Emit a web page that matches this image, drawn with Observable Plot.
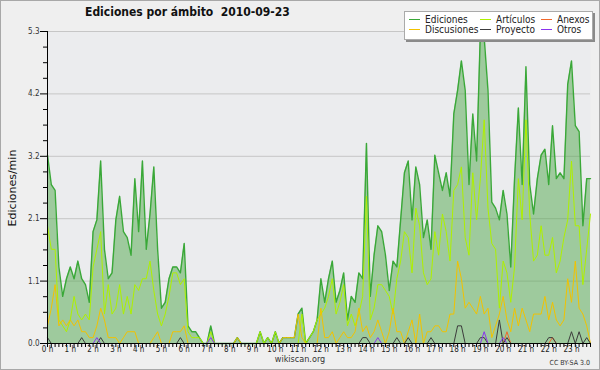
<!DOCTYPE html>
<html><head><meta charset="utf-8">
<script src="https://cdn.jsdelivr.net/npm/d3@7"></script>
<script src="https://cdn.jsdelivr.net/npm/@observablehq/plot@0.6"></script>
<style>
body{margin:0;background:#fff}
#wrap{position:relative;width:600px;height:370px;background:#efefef;overflow:hidden;font-family:"DejaVu Sans Condensed","DejaVu Sans",sans-serif;font-stretch:condensed;color:#222}
#chart{position:absolute;left:0;top:0}
#border{position:absolute;left:0;top:0;right:0;bottom:0;border:1px solid #a8a8a8;pointer-events:none}
#title{position:absolute;left:85px;top:5px;font-size:12px;font-weight:bold;white-space:pre;color:#111}
#ylab{position:absolute;left:12px;top:188px;transform:translate(-50%,-50%) rotate(-90deg);font-family:"DejaVu Sans";font-stretch:normal;font-size:11px;white-space:nowrap;color:#111}
#legend{position:absolute;left:404px;top:11px;width:187px;height:27px;background:#fff;border:1px solid #aaa;box-shadow:2px 2px 0 #8a8a8a}
.li{position:absolute;font-size:10px;line-height:10px;white-space:nowrap;color:#222}
.sw{display:inline-block;width:11px;height:1px;vertical-align:middle;margin-right:5px;position:relative;top:-1px}
#site{position:absolute;left:0;width:600px;top:354px;text-align:center;font-size:9px;color:#333}
#cc{position:absolute;right:10px;top:359px;font-size:7px;color:#333}
</style></head><body>
<div id="wrap">
  <div id="chart"></div>
  <div id="title">Ediciones por ámbito  2010-09-23</div>
  <div id="ylab">Ediciones/min</div>
  <div id="legend"></div>
  <div id="site">wikiscan.org</div>
  <div id="cc">CC BY-SA 3.0</div>
  <div id="border"></div>
</div>
<script>
const hourLabels = ["0 h","1 h","2 h","3 h","4 h","5 h","6 h","7 h","8 h","9 h","10 h","11 h","12 h","13 h","14 h","15 h","16 h","17 h","18 h","19 h","20 h","21 h","22 h","23 h"];
const yTickLabels = ["0.0","1.1","2.1","3.2","4.2","5.3"];
const seriesNames = ["Ediciones","Artículos","Anexos","Discusiones","Proyecto","Otros"];

const ediciones = [
3.2,2.7,2.6,1.3,0.8,1.1,1.3,1.1,1.4,1.1,
1.0,0.7,1.9,2.1,3.1,1.6,1.1,1.2,2.1,2.5,
1.9,1.8,1.5,2.8,1.9,3.1,1.6,2.2,3.0,1.6,
0.6,0.7,1.1,1.3,1.3,1.2,1.7,0.3,0.2,0.2,
0.1,0.0,0.0,0.3,0.0,0.0,0.0,0.0,0.0,0.0,
0.1,0.0,0.0,0.0,0.0,0.0,0.2,0.0,0.1,0.0,
0.2,0.0,0.1,0.1,0.1,0.1,0.5,0.6,0.0,0.1,
0.2,0.4,1.1,0.7,1.1,1.4,0.7,0.9,1.2,0.4,
0.8,0.7,1.2,1.1,3.4,0.8,1.5,2.0,1.9,1.5,
0.9,1.4,1.3,2.1,2.9,3.1,2.1,3.0,2.7,1.8,
2.1,1.6,3.2,2.9,2.6,2.9,2.5,3.9,4.3,4.8,
4.3,2.7,3.9,3.1,5.3,5.2,4.3,2.4,2.3,2.1,
2.6,2.2,1.3,2.8,4.0,2.7,4.7,2.7,2.2,2.8,
3.2,3.3,2.7,3.7,2.8,2.9,2.8,4.4,4.8,3.7,
3.6,2.0,2.8,2.8];

const articulos = [
2.0,1.6,1.6,0.4,0.3,0.2,0.4,0.8,0.5,0.4,
0.5,0.4,1.3,1.6,1.9,0.5,1.0,0.5,0.6,1.0,
0.5,0.8,0.5,1.0,0.9,1.1,1.1,1.4,0.9,0.5,
0.3,0.5,0.8,1.2,1.2,1.0,1.1,0.2,0.1,0.1,
0.1,0.0,0.0,0.2,0.0,0.0,0.0,0.0,0.0,0.0,
0.0,0.0,0.0,0.0,0.0,0.0,0.2,0.0,0.1,0.0,
0.2,0.0,0.0,0.0,0.0,0.0,0.0,0.5,0.0,0.1,
0.2,0.4,0.5,0.6,0.8,1.1,0.5,0.7,1.0,0.3,
0.5,0.3,0.5,0.8,2.5,0.4,0.6,1.0,1.0,0.9,
0.8,0.5,1.1,1.4,1.9,1.8,1.2,2.3,2.0,1.2,
1.0,1.1,1.9,1.5,2.2,1.9,1.4,2.6,2.7,3.0,
1.8,1.5,2.9,2.1,2.8,3.8,2.3,1.7,1.6,0.6,
1.4,1.2,0.7,1.3,2.8,2.1,3.8,2.2,1.4,1.5,
2.0,1.5,1.5,1.8,1.2,1.4,1.8,2.1,3.1,2.0,
2.0,1.0,1.6,2.2];

const discusiones = [
0.3,0.6,1.0,0.3,0.4,0.3,0.4,0.3,0.4,0.2,
0.2,0.1,0.1,0.3,0.6,0.4,0.1,0.1,0.1,0.0,
0.1,0.2,0.2,0.2,0.0,0.0,0.0,0.0,0.1,0.2,
0.0,0.0,0.0,0.2,0.2,0.2,0.3,0.0,0.0,0.0,
0.0,0.0,0.0,0.0,0.0,0.0,0.0,0.0,0.0,0.0,
0.1,0.0,0.0,0.0,0.0,0.0,0.0,0.0,0.0,0.0,
0.0,0.0,0.1,0.1,0.1,0.1,0.5,0.1,0.0,0.0,
0.0,0.0,0.6,0.1,0.1,0.2,0.0,0.1,0.2,0.1,
0.1,0.2,0.6,0.2,0.3,0.1,0.2,0.4,0.2,0.0,
0.2,0.6,0.2,0.2,0.0,0.2,0.4,0.0,0.5,0.0,
0.2,0.2,0.3,0.3,0.2,0.2,0.5,0.5,1.4,1.1,
0.6,0.7,0.6,0.5,0.8,0.5,0.6,0.1,0.3,0.5,
0.8,0.4,0.2,0.6,0.3,0.6,0.4,0.2,0.5,0.5,
0.5,0.8,0.4,0.7,0.4,0.3,0.4,1.1,0.7,1.4,
0.6,0.5,0.3,0.0];

const proyecto = [
0.1,0,0,0,0,0,0,0,0,0.1,
0,0,0,0,0.1,0,0,0,0,0,
0,0,0,0,0,0,0,0,0,0,
0,0,0,0,0,0.1,0,0,0,0,
0,0,0,0,0,0,0,0,0,0,
0,0,0,0,0,0,0,0,0,0,
0,0,0,0,0,0,0,0,0,0,
0,0,0,0,0,0,0,0,0,0,
0,0,0,0.1,0.1,0,0,0,0,0,
0,0,0.1,0,0,0.1,0,0,0,0,
0,0.1,0,0,0,0,0,0,0.3,0.3,
0,0,0,0,0.1,0.1,0,0,0,0.4,
0,0.1,0,0,0,0,0,0,0,0,
0,0,0.1,0.1,0,0,0,0,0.2,0,
0.2,0,0.1,0];

const otros = [
0,0,0,0,0,0,0,0,0,0,
0,0,0,0.1,0,0,0,0,0,0,
0,0,0,0,0,0,0,0,0,0,
0,0,0,0,0,0,0,0,0,0,
0,0,0,0.1,0,0,0,0,0,0,
0,0,0,0,0,0,0,0,0,0,
0,0,0,0,0,0,0,0,0,0,
0,0,0,0,0,0,0,0,0,0,
0,0,0,0,0,0,0,0.1,0,0,
0,0,0,0,0,0,0,0,0,0,
0,0,0,0,0,0,0,0,0,0,
0,0,0,0,0,0.2,0,0,0,0,
0.1,0,0,0,0,0,0,0,0,0,
0,0,0,0,0,0,0,0,0,0,
0,0,0,0];

const anexos = [
0,0,0,0,0,0,0,0,0,0,
0,0,0,0,0,0,0,0,0,0,
0,0,0,0,0,0,0,0,0,0,
0,0,0,0,0,0,0,0,0,0,
0,0,0,0,0,0,0,0,0,0,
0,0,0,0,0,0,0,0,0,0,
0,0,0,0,0,0,0,0,0,0,
0,0,0,0,0,0,0,0,0,0,
0,0,0,0,0,0,0,0,0,0,
0,0,0,0,0,0,0,0,0,0,
0,0,0,0,0,0,0,0,0,0,
0,0,0,0,0,0,0,0,0,0,
0,0.2,0,0,0,0,0,0,0,0,
0,0,0,0.1,0,0,0,0,0,0,
0,0,0,0];

const colors = {
  Ediciones: "#3aa838",
  Artículos: "#aef000",
  Anexos: "#f0682c",
  Discusiones: "#f2c200",
  Proyecto: "#3c3c3c",
  Otros: "#8a34ee"
};

const data = ediciones.map((v, i) => ({
  i, ediciones: v, articulos: articulos[i], discusiones: discusiones[i],
  proyecto: proyecto[i], otros: otros[i], anexos: anexos[i]
}));

const yMax = 5.3;
const yMajor = d3.range(0, 6).map(k => yMax * k / 5);
const yMinor = d3.range(0, 21).map(k => yMax * k / 20).filter((d, k) => k % 4 !== 0);
const hourTicks = hourLabels.map((_, h) => h * 6);

const chart = Plot.plot({
  width: 600, height: 370,
  marginLeft: 47, marginRight: 10, marginTop: 31, marginBottom: 27,
  x: {type: "linear", domain: [0, 143], axis: null},
  y: {type: "linear", domain: [0, yMax], axis: null},
  style: {background: "transparent", fontFamily: "'DejaVu Sans Condensed','DejaVu Sans',sans-serif", fontSize: "8px", color: "#000", overflow: "visible"},
  marks: [
    Plot.frame({fill: "#ebecee", stroke: null}),
    Plot.ruleY(yMajor.slice(1), {stroke: "#c6c6c6"}),
    Plot.areaY(data, {x: "i", y: "ediciones", fill: "#52a84c", fillOpacity: 0.5}),
    Plot.lineY(data, {x: "i", y: "ediciones", stroke: colors.Ediciones, strokeWidth: 1.4}),
    Plot.lineY(data, {x: "i", y: "articulos", stroke: colors["Artículos"], strokeWidth: 1}),
    Plot.lineY(data, {x: "i", y: "discusiones", stroke: colors.Discusiones, strokeWidth: 1}),
    Plot.lineY(data, {x: "i", y: "anexos", stroke: colors.Anexos, strokeWidth: 1}),
    Plot.lineY(data, {x: "i", y: "proyecto", stroke: colors.Proyecto, strokeWidth: 1}),
    Plot.lineY(data, {x: "i", y: "otros", stroke: colors.Otros, strokeWidth: 1}),
    Plot.ruleX([0], {stroke: "#000"}),
    Plot.ruleY([0], {stroke: "#000"}),
    Plot.axisY(yMajor, {tickSize: 7, tickPadding: 1, tickFormat: (d) => yTickLabels[Math.round(d / yMax * 5)], label: null, fill: "#333"}),
    Plot.axisY(yMinor, {tickSize: 4, tickFormat: () => "", label: null}),
    Plot.axisX(d3.range(0, 144), {tickSize: 4, tickFormat: () => "", label: null}),
    Plot.axisX(hourTicks, {tickSize: 0, tickPadding: 3, tickFormat: d => hourLabels[d / 6], label: null, fill: "#222"})
  ]
});
document.getElementById("chart").appendChild(chart);

// legend
const legend = document.getElementById("legend");
const colX = [4, 75, 136];
const rowY = [3, 13];
seriesNames.forEach((name, k) => {
  const el = document.createElement("div");
  el.className = "li";
  el.style.left = colX[k % 3] + "px";
  el.style.top = rowY[Math.floor(k / 3)] + "px";
  const sw = document.createElement("span");
  sw.className = "sw";
  sw.style.background = colors[name];
  el.appendChild(sw);
  el.appendChild(document.createTextNode(name));
  legend.appendChild(el);
});
</script>
</body></html>
